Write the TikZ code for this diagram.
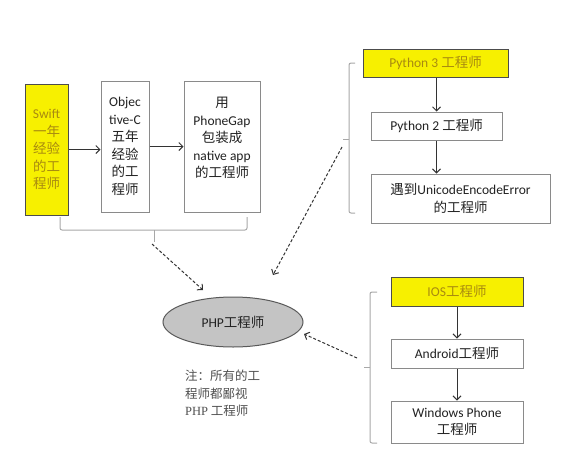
\documentclass[tikz,border=0pt]{standalone}
\usepackage{fontspec}
\setmainfont{Carlito}
\newfontfamily\cjk{Noto Sans CJK SC}
\newfontfamily\notefont{Liberation Serif}
\usetikzlibrary{arrows.meta,shapes.geometric}
\definecolor{boxline}{HTML}{8A8A8A}
\definecolor{ylw}{HTML}{F7F000}
\definecolor{gold}{HTML}{A88A10}
\definecolor{brk}{HTML}{A8A8A8}
\definecolor{txt}{HTML}{222222}
\definecolor{ellfill}{HTML}{C4C4C4}
\definecolor{notec}{HTML}{505050}
\tikzset{
  box/.style={draw=boxline, line width=1pt, fill=white, align=center, inner sep=0pt, text=txt, font=\fontsize{13.5}{17.5}\selectfont},
  ybox/.style={box, fill=ylw, draw=black!70, text=gold},
  flow/.style={-{Straight Barb[length=4pt,width=8pt]}, line width=1pt, draw=black!80},
  dasharrow/.style={flow, dash pattern=on 3pt off 2pt},
  brace/.style={draw=brk, line width=1pt, rounded corners=2pt}
}
\begin{document}
\begin{tikzpicture}[x=1pt,y=-1pt]
\useasboundingbox[fill=white] (0,0) rectangle (571,461);
% left chain
\node[ybox, minimum width=43, minimum height=131] (swift) at (46.5,149.5) {Swift\\{\cjk 一年}\\{\cjk 经验}\\{\cjk 的工}\\{\cjk 程师}};
\node[box, minimum width=48, minimum height=131] (objc) at (125,146.5) {Objec\\tive-C\\{\cjk 五年}\\{\cjk 经验}\\{\cjk 的工}\\{\cjk 程师}};
\node[box, minimum width=76, minimum height=131] (pgap) at (222,146.5) {{\cjk 用}\\PhoneGap\\{\cjk 包装成}\\native app\\{\cjk 的工程师}\\\mbox{}};
\draw[flow] (swift.east) -- (swift.east -| objc.west);
\draw[flow] (objc.east) -- (objc.east -| pgap.west);
% python chain
\node[ybox, minimum width=145, minimum height=28] (py3) at (435.5,63) {Python 3 {\cjk 工程师}};
\node[box, minimum width=131, minimum height=28] (py2) at (436.5,126) {Python 2 {\cjk 工程师}};
\node[box, minimum width=179, minimum height=49] (uni) at (460.5,198.5) {{\cjk 遇到}UnicodeEncodeError\\{\cjk 的工程师}};
\draw[flow] (py2.north |- py3.south) -- (py2.north);
\draw[flow] (py2.south) -- (py2.south |- uni.north);
% mobile chain
\node[ybox, minimum width=132, minimum height=29] (ios) at (457,291.5) {IOS{\cjk 工程师}};
\node[box, minimum width=132, minimum height=29] (android) at (457,353.5) {Android{\cjk 工程师}};
\node[box, minimum width=132, minimum height=42] (win) at (457,422) {Windows Phone\\{\cjk 工程师}};
\draw[flow] (ios.south) -- (android.north);
\draw[flow] (android.south) -- (win.north);
% PHP
\node[ellipse, draw=black!65, line width=1pt, fill=ellfill, minimum width=140, minimum height=50, inner sep=0pt, text=txt, font=\fontsize{13.5}{16}\selectfont] (php) at (233,322) {PHP{\cjk 工程师}};
\node[anchor=north west, align=left, inner sep=0pt, text=notec, font=\fontsize{12.5}{17.5}\selectfont] (note) at (185,370) {{\cjk 注：所有的工}\\{\cjk 程师都鄙视}\\{\notefont PHP} {\cjk 工程师}};
% brackets
\draw[brace] (60,217) -- (60,230) -- (247,230) -- (247,217);
\draw[brace] (154,230) -- (154,242);
\draw[brace] (355,63) -- (349,63) -- (349,213) -- (355,213);
\draw[brace] (349,139) -- (343,139);
\draw[brace] (377,292) -- (370,292) -- (370,443) -- (377,443);
\draw[brace] (370,367) -- (364,367);
% dashed connectors
\coordinate (c1) at (152,244);
\coordinate (e1) at (203,290);
\coordinate (c2) at (342,147);
\coordinate (e2) at (273,275);
\coordinate (c3) at (357,358);
\coordinate (e3) at (304,334);
\draw[dasharrow] (c1) -- (e1);
\draw[dasharrow] (c2) -- (e2);
\draw[dasharrow] (c3) -- (e3);
\end{tikzpicture}
\end{document}
